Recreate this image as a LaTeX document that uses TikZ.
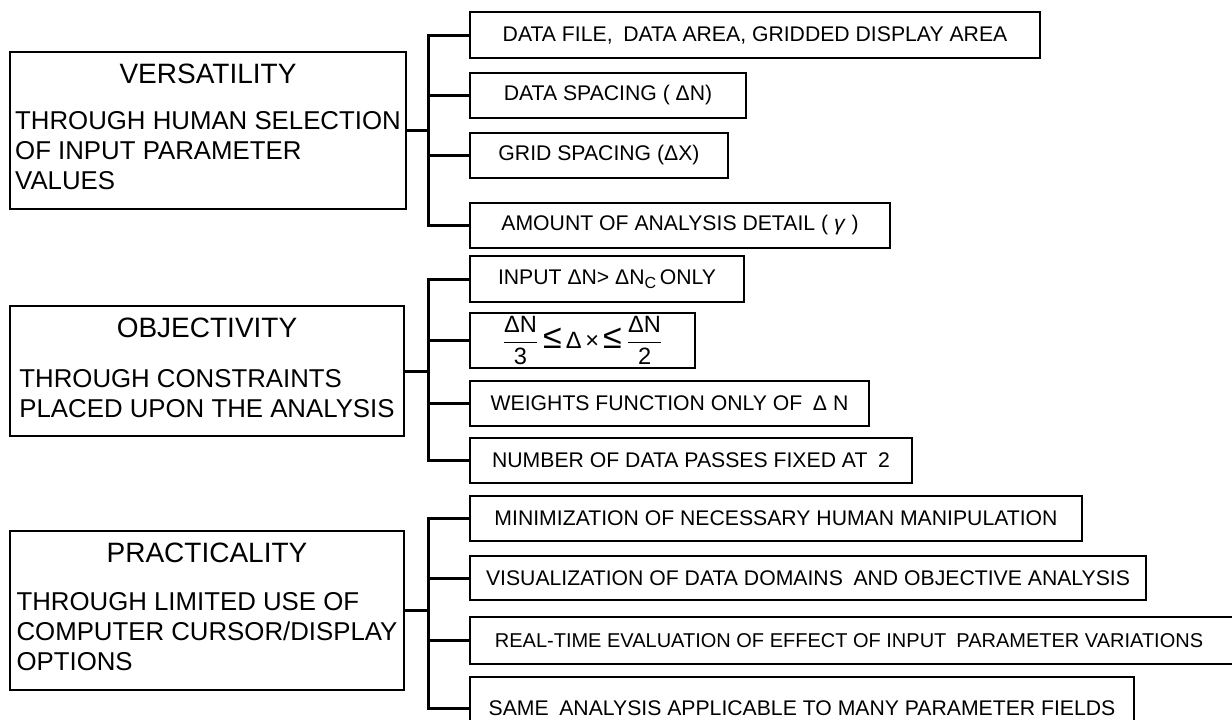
\documentclass[tikz,border=0pt]{standalone}
\usepackage{fontspec}
\setmainfont{Liberation Sans}

\newcommand\headsize{\fontsize{14pt}{16pt}\selectfont}
\newcommand\notesize{\fontsize{12.9pt}{15pt}\selectfont}
\newcommand\leafsize{\fontsize{10.6pt}{12pt}\selectfont}
\newcommand\subC{\raisebox{-0.35ex}{\fontsize{8pt}{8pt}\selectfont C}}
\newcommand\bigle{{\fontsize{17pt}{17pt}\selectfont ≤}}

% sizes are given in drawing units (1 unit = 0.5pt)
\tikzset{
  panel/.style 2 args={draw, line width=1.35pt, inner sep=0pt,
    minimum width=#1*0.5pt, minimum height=#2*0.5pt, font=\notesize},
  leaf/.style 2 args={draw, line width=1.3pt, inner sep=0pt,
    minimum width=#1*0.5pt, minimum height=#2*0.5pt, font=\leafsize},
  link/.style={line width=1.5pt},
}

\begin{document}
\begin{tikzpicture}[x=0.5pt, y=-0.5pt]
\useasboundingbox (0,0) rectangle (1232,719);
\fill[white] (0,0) rectangle (1232,719);
\clip (0,0) rectangle (1232,719);

% x position of the three vertical buses
\coordinate (bus) at (428,0);

% ---------------- VERSATILITY ----------------
\node[panel={396}{157}] (vers) at (208,130.5) {\begin{tabular}{@{}l@{}}
  \multicolumn{1}{@{}c@{}}{\headsize VERSATILITY}\\[8pt]
  THROUGH HUMAN SELECTION\\
  OF INPUT PARAMETER\\
  VALUES
\end{tabular}};

\node[leaf={570}{46}] (d1) at (755,35)    {DATA FILE,\enspace DATA AREA, GRIDDED DISPLAY AREA};
\node[leaf={276}{45}] (d2) at (608,95.5)  {DATA SPACING ( ΔN)};
\node[leaf={258}{45}] (d3) at (599,155.5) {GRID SPACING (ΔX)};
\node[leaf={420}{45}] (d4) at (680,225.5) {AMOUNT OF ANALYSIS DETAIL ( \textit{γ} )};

\draw[link] (vers.east) -- (vers.east -| bus) coordinate (vj);
\foreach \b in {d1,d2,d3,d4} \draw[link] (vj) |- (\b.west);

% ---------------- OBJECTIVITY ----------------
\node[panel={394}{130}] (obj) at (207,371) {\begin{tabular}{@{}l@{}}
  \multicolumn{1}{@{}c@{}}{\headsize OBJECTIVITY}\\[10pt]
  THROUGH CONSTRAINTS\\
  PLACED UPON THE ANALYSIS
\end{tabular}};

\node[leaf={274}{46}] (o1) at (607,279)   {INPUT ΔN> ΔN\subC\,ONLY};
\node[leaf={225}{55}, font=\fontsize{11.8pt}{13pt}\selectfont] (o2) at (582.5,340.5)
  {$\displaystyle\frac{\mbox{ΔN}}{\mbox{3}}$\,\bigle\,Δ\,×\,\bigle\,$\displaystyle\frac{\mbox{ΔN}}{\mbox{2}}$};
\node[leaf={399}{45}] (o3) at (669.5,403.5) {WEIGHTS FUNCTION ONLY OF\enspace Δ N};
\node[leaf={442}{45}] (o4) at (691,460.5)   {NUMBER OF DATA PASSES FIXED AT\enspace 2};

\draw[link] (obj.east) -- (obj.east -| bus) coordinate (oj);
\foreach \b in {o1,o2,o3,o4} \draw[link] (oj) |- (\b.west);

% ---------------- PRACTICALITY ----------------
\node[panel={394}{159}] (prac) at (207,610.5) {\begin{tabular}{@{}l@{}}
  \multicolumn{1}{@{}c@{}}{\headsize PRACTICALITY}\\[9pt]
  THROUGH LIMITED USE OF\\
  COMPUTER CURSOR/DISPLAY\\
  OPTIONS
\end{tabular}};

\node[leaf={612}{45}] (p1) at (776,518.5) {MINIMIZATION OF NECESSARY HUMAN MANIPULATION};
\node[leaf={676}{44}] (p2) at (808,578)   {VISUALIZATION OF DATA DOMAINS\enspace AND OBJECTIVE ANALYSIS};
% this box runs on past the right-hand edge
\node[leaf={770}{47}, font=\fontsize{10pt}{12pt}\selectfont] (p3) at (855,640.5)
  {\hspace*{-6pt}REAL-TIME EVALUATION OF EFFECT OF INPUT\enspace PARAMETER VARIATIONS};
\node[leaf={664}{63}] (p4) at (802,708.5) {SAME\enspace ANALYSIS APPLICABLE TO MANY PARAMETER FIELDS};

\draw[link] (prac.east) -- (prac.east -| bus) coordinate (pj);
\foreach \b in {p1,p2,p3,p4} \draw[link] (pj) |- (\b.west);
\end{tikzpicture}
\end{document}
